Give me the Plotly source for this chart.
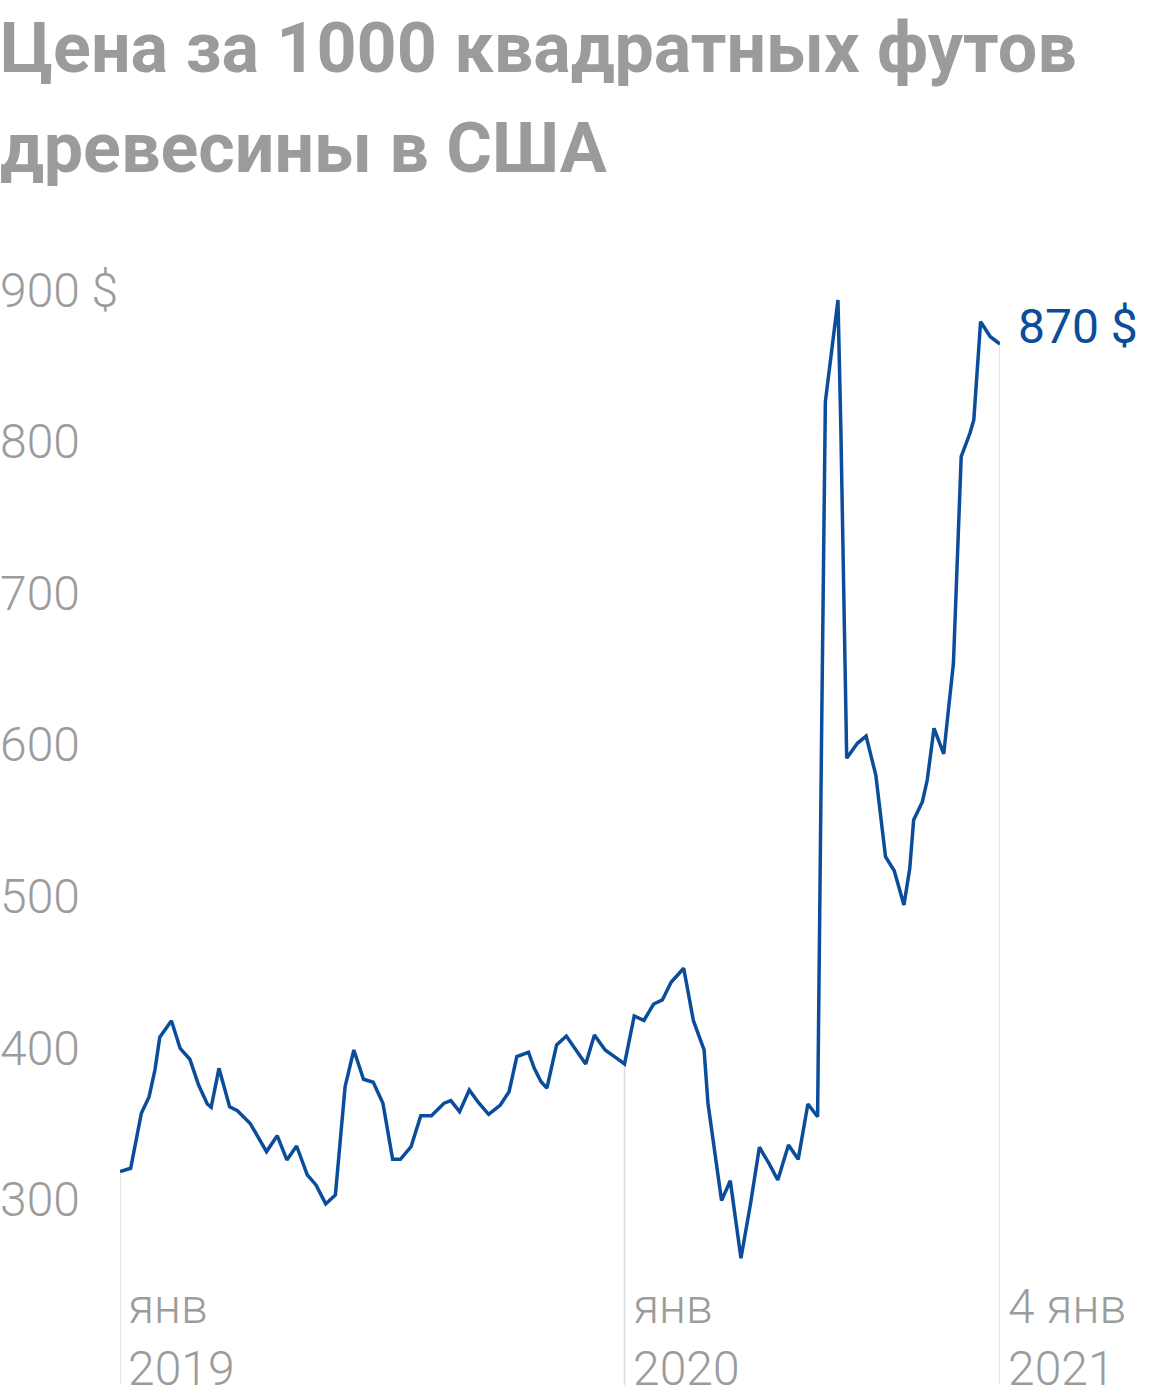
import plotly.graph_objects as go

# weekly lumber price (week 0 = jan 2019)
week = [0, 1.1, 2.2, 3.0, 3.6, 4.1, 5.3, 6.2, 7.2, 8.1,
        9.0, 9.4, 10.2, 11.3, 12.1, 13.4, 15.1, 16.2, 17.2, 18.2,
        19.3, 20.2, 21.2, 22.2, 23.2, 24.1, 25.1, 26.1, 27.1, 28.1,
        28.9, 30.0, 31.0, 32.1, 33.4, 34.1, 35.0, 36.0, 37.0, 38.0,
        39.2, 40.1, 40.9, 42.1, 42.7, 43.4, 44.0, 45.0, 46.0, 47.0,
        48.0, 48.9, 50.0, 51.0, 52.0,
        53.0, 54.0, 55.0, 55.9, 56.8,
        58.1, 59.1, 60.2, 60.6, 62.0, 62.9, 64.0, 65.0, 65.9, 66.9,
        67.8, 68.9, 69.9, 70.9, 71.9, 72.3, 72.7, 74.0, 74.3, 74.9,
        76.0, 76.9, 77.9, 78.9, 79.8, 80.8, 81.4, 81.8, 82.7, 83.2,
        83.9, 84.9, 85.9, 86.7, 87.6, 88.0, 88.7, 89.7, 90.7]

price = [318.7, 320.9, 357.2, 368.1, 385.7, 407.3, 418.2, 400, 392.8, 375.8,
         363.3, 361.1, 386.8, 361.5, 358.9, 350.6, 331.9, 342.4, 326.4, 335.6,
         316.5, 309.9, 297.4, 303.3, 374.7, 398.9, 379.6, 377.6, 363.8, 326.8,
         326.8, 335.2, 355.6, 355.6, 363.8, 365.5, 358.2, 372.5, 363.8, 356.5,
         362.6, 371.4, 394.5, 397.4, 386.8, 378, 373.7, 402.2, 408.1, 399,
         389.7, 408.8, 398.9, 394.3, 389.7,
         421.3, 418.4, 429.2, 431.9, 443.5,
         452.8, 418.2, 398.9, 363.8, 299.6, 312.7, 261.6, 298, 334.8, 324,
         313.2, 336.3, 326.8, 363.3, 354.9, 600, 826.4, 893.4, 807.7, 591.2,
         601.1, 605.9, 580.2, 526.4, 517.1, 494.5, 518.7, 550.6, 562.6, 576.9,
         611, 594.1, 653.9, 790.1, 805.5, 814.3, 879.1, 869.2, 864.4]

x_tick_idx = [0, 54, 98]
x_tick_text = ["янв<br>2019", "янв<br>2020", "4 янв<br>2021"]

y_ticks = [300, 400, 500, 600, 700, 800, 900]
y_tick_text = ["300", "400", "500", "600", "700", "800", "900 $"]

last_label = "870 $"
title_lines = ["Цена за 1000 квадратных футов", "древесины в США"]

BLUE = "#0b4d9a"
GREY = "#9c9c9c"
Y_MIN = 178

fig = go.Figure()
fig.add_trace(go.Scatter(x=week, y=price, mode="lines",
                         line=dict(color=BLUE, width=3.5), hoverinfo="skip"))

# drop lines from the curve down to the bottom at the date marks
for i in x_tick_idx:
    fig.add_shape(type="line", x0=week[i], x1=week[i], y0=price[i], y1=Y_MIN,
                  xref="x", yref="y", line=dict(color="#dcdcdc", width=1.5),
                  layer="below")

annotations = []
for i, txt in zip(x_tick_idx, x_tick_text):
    annotations.append(dict(x=week[i], y=0, xref="x", yref="paper", text=txt,
                            xanchor="left", yanchor="bottom", align="left",
                            showarrow=False, xshift=6, yshift=-14,
                            font=dict(family="Roboto", size=48, color=GREY, weight=300)))

for v, txt in zip(y_ticks, y_tick_text):
    annotations.append(dict(x=0, y=v, xref="paper", yref="y", text=txt,
                            xanchor="left", yanchor="middle", showarrow=False,
                            xshift=-122,
                            font=dict(family="Roboto", size=48, color=GREY, weight=300)))

annotations.append(dict(x=week[-1], y=price[-1], xref="x", yref="y", text=last_label,
                        xanchor="left", yanchor="middle", showarrow=False,
                        xshift=16, yshift=17,
                        font=dict(family="Roboto", size=48, color=BLUE)))

for k, line in enumerate(title_lines):
    annotations.append(dict(x=0, y=1, xref="paper", yref="paper", text="<b>" + line + "</b>",
                            xanchor="left", yanchor="middle", showarrow=False,
                            xshift=-122, yshift=242 - 100 * k,
                            font=dict(family="Roboto", size=70, color="#9b9b9b")))

fig.update_layout(
    width=1160, height=1400,
    margin=dict(l=120, r=160, t=290, b=15),
    paper_bgcolor="white", plot_bgcolor="white",
    showlegend=False,
    annotations=annotations,
    xaxis=dict(range=[0, week[-1]], visible=False, fixedrange=True),
    yaxis=dict(range=[Y_MIN, 900], visible=False, fixedrange=True),
)

fig.write_html("out.html", config={"displayModeBar": False},
               post_script="document.body.style.margin='0';")
